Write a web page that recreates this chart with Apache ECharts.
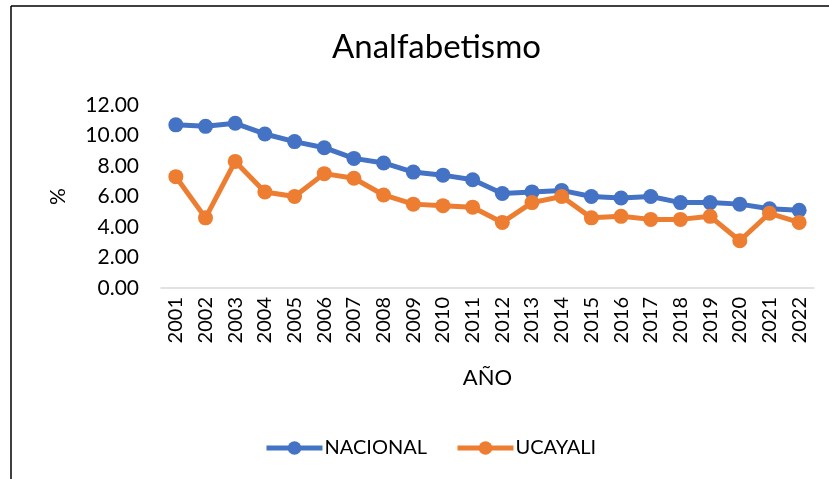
<!DOCTYPE html>
<html>
<head>
<meta charset="utf-8">
<script src="https://cdn.jsdelivr.net/npm/echarts@6/dist/echarts.min.js"></script>
<style>
  html, body { margin: 0; padding: 0; background: #fff; }
  #chart { width: 829px; height: 479px; }
</style>
</head>
<body>
<div id="chart"></div>
<script>
// Data
const years = ['2001', '2002', '2003', '2004', '2005', '2006', '2007', '2008', '2009', '2010', '2011',
    '2012', '2013', '2014', '2015', '2016', '2017', '2018', '2019', '2020', '2021', '2022'];
const nacional = [10.7, 10.6, 10.8, 10.1, 9.6, 9.2, 8.5, 8.2, 7.6, 7.4, 7.1,
    6.2, 6.3, 6.4, 6.0, 5.9, 6.0, 5.6, 5.6, 5.5, 5.2, 5.1];
const ucayali = [7.3, 4.6, 8.3, 6.3, 6.0, 7.5, 7.2, 6.1, 5.5, 5.4, 5.3,
    4.3, 5.6, 6.0, 4.6, 4.7, 4.5, 4.5, 4.7, 3.1, 4.9, 4.3];
const yTicks = { min: 0, max: 12, interval: 2 };

const font = 'Lato, "Liberation Sans", sans-serif';
const blue = '#4472C4';
const orange = '#ED7D31';

const chart = echarts.init(document.getElementById('chart'));
chart.setOption({
    animation: false,
    backgroundColor: '#fff',
    textStyle: { fontFamily: font, color: '#000' },
    title: {
        text: 'Analfabetismo',
        left: 327,
        top: 26,
        textStyle: { fontFamily: font, fontSize: 33, fontWeight: 'normal', color: '#000' }
    },
    legend: {
        data: ['NACIONAL', 'UCAYALI'],
        left: 259,
        top: 433,
        itemWidth: 56,
        itemHeight: 17,
        itemGap: 28,
        lineStyle: { width: 5 },
        textStyle: { fontFamily: font, fontSize: 20, color: '#000', padding: [0, 0, 0, -3] }
    },
    grid: { left: 161, right: 15, top: 105, bottom: 191 },
    xAxis: {
        type: 'category',
        data: years,
        boundaryGap: true,
        name: 'AÑO',
        nameLocation: 'middle',
        nameGap: 79,
        nameTextStyle: { fontFamily: font, fontSize: 22, color: '#000' },
        axisLine: { lineStyle: { color: '#D9D9D9', width: 1.5 } },
        axisTick: { show: false },
        axisLabel: { rotate: 90, fontFamily: font, fontSize: 20, color: '#000', margin: 9, interval: 0 }
    },
    yAxis: {
        type: 'value',
        min: yTicks.min,
        max: yTicks.max,
        interval: yTicks.interval,
        name: '%',
        nameLocation: 'middle',
        nameGap: 92,
        nameRotate: 90,
        nameTextStyle: { fontFamily: font, fontSize: 21, color: '#000' },
        axisLine: { show: false },
        axisTick: { show: false },
        splitLine: { show: false },
        axisLabel: {
            fontFamily: font, fontSize: 21, color: '#000', margin: 22,
            formatter: v => v.toFixed(2)
        }
    },
    series: [
        {
            name: 'NACIONAL',
            type: 'line',
            data: nacional,
            symbol: 'circle',
            symbolSize: 15,
            color: blue,
            lineStyle: { width: 5, color: blue },
            itemStyle: { color: blue }
        },
        {
            name: 'UCAYALI',
            type: 'line',
            data: ucayali,
            symbol: 'circle',
            symbolSize: 15,
            color: orange,
            lineStyle: { width: 5, color: orange },
            itemStyle: { color: orange }
        }
    ],
    graphic: [
        { type: 'line', shape: { x1: 11, y1: 6, x2: 829, y2: 6 }, style: { stroke: '#000', lineWidth: 1.5 } },
        { type: 'line', shape: { x1: 11, y1: 6, x2: 11, y2: 479 }, style: { stroke: '#000', lineWidth: 1.5 } }
    ]
});

window.addEventListener('resize', function() {
    chart.resize();
});
</script>
</body>
</html>
